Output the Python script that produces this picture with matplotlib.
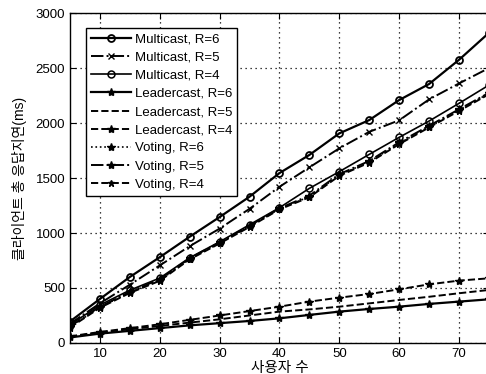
import matplotlib
matplotlib.use('Agg')
from matplotlib import pyplot as plt

plt.rcParams['font.family'] = ['Liberation Sans', 'Noto Sans CJK KR', 'DejaVu Sans']

# number of users
users = [5, 10, 15, 20, 25, 30, 35, 40, 45, 50, 55, 60, 65, 70, 75]

# total response delay (ms)
multicast_r6 = [195, 400, 600, 780, 966, 1145, 1330, 1545, 1710, 1906, 2027, 2209, 2355, 2575, 2820]
multicast_r5 = [175, 360, 530, 705, 880, 1040, 1220, 1420, 1597, 1770, 1920, 2025, 2215, 2360, 2500]
multicast_r4 = [165, 345, 480, 590, 775, 920, 1075, 1230, 1406, 1558, 1715, 1870, 2018, 2179, 2345]
leader_r6 = [50, 85, 110, 135, 160, 180, 200, 224, 255, 285, 309, 330, 355, 376, 397]
leader_r5 = [55, 95, 125, 155, 185, 215, 250, 285, 305, 330, 360, 391, 420, 452, 482]
leader_r4 = [60, 100, 135, 170, 210, 250, 290, 330, 376, 412, 445, 488, 533, 567, 588]
voting_r6 = [145, 325, 460, 570, 765, 910, 1060, 1220, 1330, 1527, 1648, 1815, 1967, 2118, 2270]
voting_r5 = [150, 330, 465, 580, 770, 915, 1065, 1225, 1340, 1535, 1655, 1825, 1975, 2125, 2275]
voting_r4 = [140, 320, 455, 565, 760, 905, 1055, 1215, 1325, 1520, 1640, 1808, 1960, 2110, 2262]

xticks = [10, 20, 30, 40, 50, 60, 70]
yticks = [0, 500, 1000, 1500, 2000, 2500, 3000]

fig = plt.figure(figsize=(4.86, 3.74), dpi=100)
ax = fig.add_axes([0.144, 0.083, 0.862, 0.882])

ax.plot(users, multicast_r6, 'k-', marker='o', mfc='none', ms=5, mew=1.3, lw=1.6, label='Multicast, R=6')
ax.plot(users, multicast_r5, 'k-.', marker='x', ms=4.5, lw=1.4, label='Multicast, R=5')
ax.plot(users, multicast_r4, 'k-', marker='o', mfc='none', ms=5, mew=1.1, lw=1.2, label='Multicast, R=4')
ax.plot(users, leader_r6, 'k-', marker='*', ms=6, lw=1.6, label='Leadercast, R=6')
ax.plot(users, leader_r5, 'k--', lw=1.4, label='Leadercast, R=5')
ax.plot(users, leader_r4, 'k--', marker='*', ms=6, lw=1.4, label='Leadercast, R=4')
ax.plot(users, voting_r6, 'k:', marker='*', ms=6, lw=1.2, label='Voting, R=6')
ax.plot(users, voting_r5, 'k-.', marker='*', ms=6, lw=1.4, label='Voting, R=5')
ax.plot(users, voting_r4, 'k--', marker='*', ms=5, lw=1.4, label='Voting, R=4')

ax.set_xlim(5, 75)
ax.set_ylim(0, 3000)
ax.set_xticks(xticks)
ax.set_yticks(yticks)
ax.tick_params(direction='in', top=True, right=True, labelsize=9.5, length=4)
ax.grid(True, linestyle=(0, (1, 3)), color='k', linewidth=0.9)
for s in ax.spines.values():
    s.set_linewidth(1.0)

ax.set_xlabel('사용자 수', fontsize=10.5, labelpad=1)
ax.set_ylabel('클라이언트 총 응답지연(ms)', fontsize=10, labelpad=6)

leg = ax.legend(loc='upper left', bbox_to_anchor=(0.038, 0.955), borderaxespad=0,
                fontsize=9.5, handlelength=3.0, labelspacing=0.45, borderpad=0.4,
                handletextpad=0.3, fancybox=False, framealpha=1)
leg.get_frame().set_edgecolor('k')
leg.get_frame().set_linewidth(1.0)

plt.savefig('out.png', dpi=100)
